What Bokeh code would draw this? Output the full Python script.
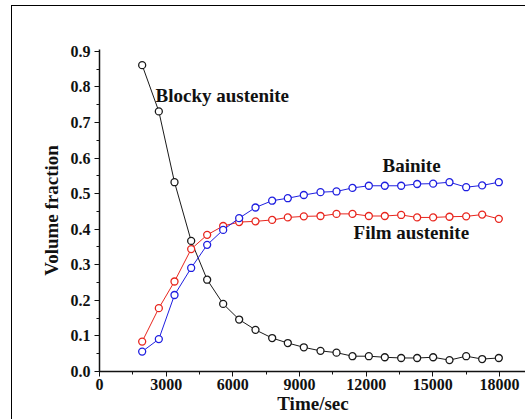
from bokeh.plotting import figure
from bokeh.models import (Range1d, SingleIntervalTicker, NumeralTickFormatter, Label,
                          ColumnDataSource)
from bokeh.embed import file_html
from bokeh.resources import INLINE

time_sec = [1920, 2670, 3375, 4125, 4845, 5565, 6285, 7020, 7770, 8475, 9195, 9945,
            10665, 11385, 12120, 12840, 13575, 14295, 15015, 15750, 16500, 17220, 17970]
blocky_austenite = [0.861, 0.731, 0.532, 0.367, 0.258, 0.190, 0.146, 0.117, 0.094, 0.080,
                    0.068, 0.058, 0.053, 0.043, 0.043, 0.040, 0.038, 0.038, 0.040, 0.032,
                    0.043, 0.035, 0.038]
film_austenite = [0.084, 0.178, 0.253, 0.344, 0.384, 0.409, 0.420, 0.422, 0.426, 0.433,
                  0.436, 0.437, 0.443, 0.443, 0.437, 0.437, 0.440, 0.433, 0.433, 0.435,
                  0.436, 0.441, 0.429]
bainite = [0.056, 0.091, 0.215, 0.291, 0.356, 0.398, 0.431, 0.461, 0.480, 0.487,
           0.496, 0.504, 0.506, 0.516, 0.522, 0.522, 0.522, 0.527, 0.528, 0.532,
           0.518, 0.523, 0.532]
curve_labels = ["Blocky austenite", "Bainite", "Film austenite"]
curve_label_x = [2520, 12736, 11431]
curve_label_y = [0.776, 0.579, 0.391]

FONT = "Liberation Serif"
OX, OY = 12, 6  # page offset of the bordered picture

p = figure(width=526 - OX, height=420 - OY, output_backend="svg", toolbar_location=None,
           x_range=Range1d(0, 19215), y_range=Range1d(0, 0.905),
           min_border_left=99 - OX, min_border_right=0, min_border_top=49 - OY,
           min_border_bottom=49)
p.styles = {"margin-left": "%dpx" % (OX - 1), "margin-top": "%dpx" % (OY - 1),
            "border-left": "1.5px solid #000", "border-top": "1.5px solid #000"}
p.background_fill_color = "white"
p.border_fill_color = "white"
p.outline_line_color = None
p.xgrid.grid_line_color = None
p.ygrid.grid_line_color = None

p.xaxis.ticker = SingleIntervalTicker(interval=3000, num_minor_ticks=2)
p.yaxis.ticker = SingleIntervalTicker(interval=0.1, num_minor_ticks=2)
p.yaxis.formatter = NumeralTickFormatter(format="0.0")
for ax in (p.xaxis, p.yaxis):
    ax.major_label_text_font = FONT
    ax.major_label_text_font_style = "bold"
    ax.major_label_text_font_size = "16px"
    ax.major_label_text_color = "#111"
    ax.axis_line_color = "#111"
    ax.axis_line_width = 1.5
    ax.major_tick_line_color = "#111"
    ax.minor_tick_line_color = "#111"
    ax.major_tick_out = 5
    ax.major_tick_in = 0
    ax.minor_tick_out = 3
    ax.minor_tick_in = 0
    ax.axis_label_text_font = FONT
    ax.axis_label_text_font_style = "bold"
    ax.axis_label_text_font_size = "19px"
    ax.axis_label_text_color = "#111"
p.xaxis.major_label_standoff = 2
p.yaxis.major_label_standoff = 4

p.yaxis.axis_label = "Volume fraction"
p.yaxis.axis_label_standoff = 6
p.xaxis.axis_label = "Time/sec"
p.xaxis.axis_label_standoff = 0

series = [(blocky_austenite, "#1a1a1a"), (film_austenite, "#e8261e"), (bainite, "#1f1fe0")]
for vals, col in series:
    src = ColumnDataSource(dict(x=time_sec, y=vals))
    p.line("x", "y", source=src, line_color=col, line_width=1)
    p.scatter("x", "y", source=src, marker="circle", size=7, fill_color="white",
              line_color=col, line_width=1.3)

for txt, x, y in zip(curve_labels, curve_label_x, curve_label_y):
    p.add_layout(Label(x=x, y=y, text=txt, text_font=FONT, text_font_style="bold",
                       text_font_size="19px", text_baseline="middle", text_color="#111"))

open("out.html", "w").write(file_html(p, INLINE))
